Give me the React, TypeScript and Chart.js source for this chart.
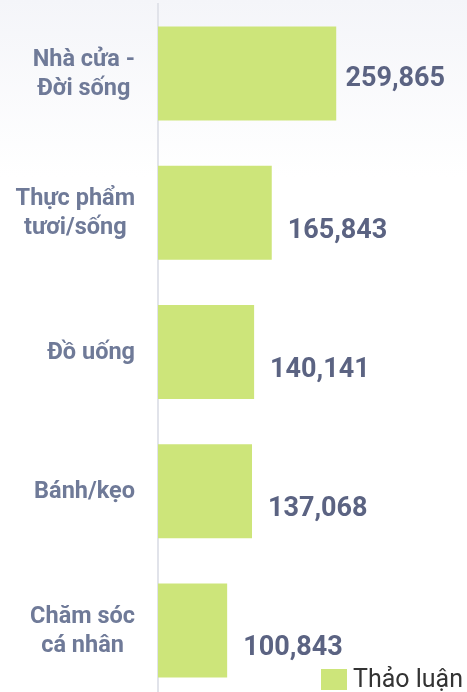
import React, { useEffect, useRef } from "react";
import Chart from "chart.js/auto";

const categories: string[][] = [
  ["Nhà cửa -", "Đời sống"],
  ["Thực phẩm", "tươi/sống"],
  ["Đồ uống"],
  ["Bánh/kẹo"],
  ["Chăm sóc", "cá nhân"],
];
const seriesName = "Thảo luận";
const values: number[] = [259865, 165843, 140141, 137068, 100843];
const xMax = 417000;

const BAR_COLOR = "#cde57a";
const CAT_COLOR = "#6f7a98";
const VAL_COLOR = "#5b6382";

const categoryLabelPlugin = {
  id: "categoryLabels",
  afterDraw(chart: any) {
    const ctx = chart.ctx;
    const yScale = chart.scales.y;
    const right = 135;
    const lineH = 29;
    ctx.save();
    ctx.font = "bold 23.5px Roboto";
    ctx.fillStyle = CAT_COLOR;
    ctx.textAlign = "center";
    ctx.textBaseline = "middle";
    categories.forEach((lines, i) => {
      const cy = yScale.getPixelForValue(i) + 1;
      const maxW = Math.max(...lines.map((l) => ctx.measureText(l).width));
      const cx = right - maxW / 2;
      const startY = cy - ((lines.length - 1) * lineH) / 2;
      lines.forEach((l, j) => ctx.fillText(l, cx, startY + j * lineH));
    });
    ctx.restore();
  },
};

const valueLabelPlugin = {
  id: "valueLabels",
  afterDatasetsDraw(chart: any) {
    const ctx = chart.ctx;
    const meta = chart.getDatasetMeta(0);
    const area = chart.chartArea;
    ctx.save();
    ctx.font = "bold 27px Roboto";
    ctx.fillStyle = VAL_COLOR;
    ctx.textAlign = "left";
    ctx.textBaseline = "middle";
    meta.data.forEach((bar: any, i: number) => {
      const text = values[i].toLocaleString("en-US");
      const w = ctx.measureText(text).width;
      let x = bar.x + 16;
      let y = bar.y + 18;
      if (x + w > area.right) {
        x = area.right - w + 1;
        y = bar.y + 6;
      }
      ctx.fillText(text, x, y);
    });
    ctx.restore();
  },
};

export default function App() {
  const canvasRef = useRef<HTMLCanvasElement | null>(null);

  useEffect(() => {
    if (!canvasRef.current) return;
    const chart = new Chart(canvasRef.current, {
      type: "bar",
      data: {
        labels: categories.map((c) => c.join(" ")),
        datasets: [
          {
            label: seriesName,
            data: values,
            backgroundColor: BAR_COLOR,
            borderWidth: 0,
            barPercentage: 0.9,
            categoryPercentage: 0.75,
          },
        ],
      },
      options: {
        indexAxis: "y",
        animation: false,
        responsive: true,
        maintainAspectRatio: false,
        layout: { padding: { top: 4, bottom: 4, left: 0, right: 23 } },
        plugins: {
          legend: { display: false },
          tooltip: { enabled: false },
        },
        scales: {
          x: {
            display: false,
            min: 0,
            max: xMax,
            grid: { display: false },
          },
          y: {
            ticks: { display: false },
            grid: { display: false },
            border: { display: true, color: "#e1e3ea", width: 2 },
            afterFit: (s: any) => {
              s.width = 158;
            },
          },
        },
      },
      plugins: [categoryLabelPlugin, valueLabelPlugin],
    });
    return () => chart.destroy();
  }, []);

  return (
    <div
      style={{
        position: "absolute",
        left: 0,
        top: 0,
        width: 467,
        height: 704,
        overflow: "hidden",
        background: "linear-gradient(to bottom, #f4f5f9 0px, #ffffff 177px)",
      }}
    >
      <canvas ref={canvasRef} />
      <div
        style={{
          position: "absolute",
          left: 321,
          top: 667,
          display: "flex",
          alignItems: "center",
          fontFamily: "Roboto",
          fontSize: 25,
          lineHeight: "24px",
          color: "#333333",
          whiteSpace: "nowrap",
        }}
      >
        <span
          style={{
            display: "inline-block",
            width: 26,
            height: 21,
            background: BAR_COLOR,
            marginRight: 6,
          }}
        />
        <span>{seriesName}</span>
      </div>
    </div>
  );
}
